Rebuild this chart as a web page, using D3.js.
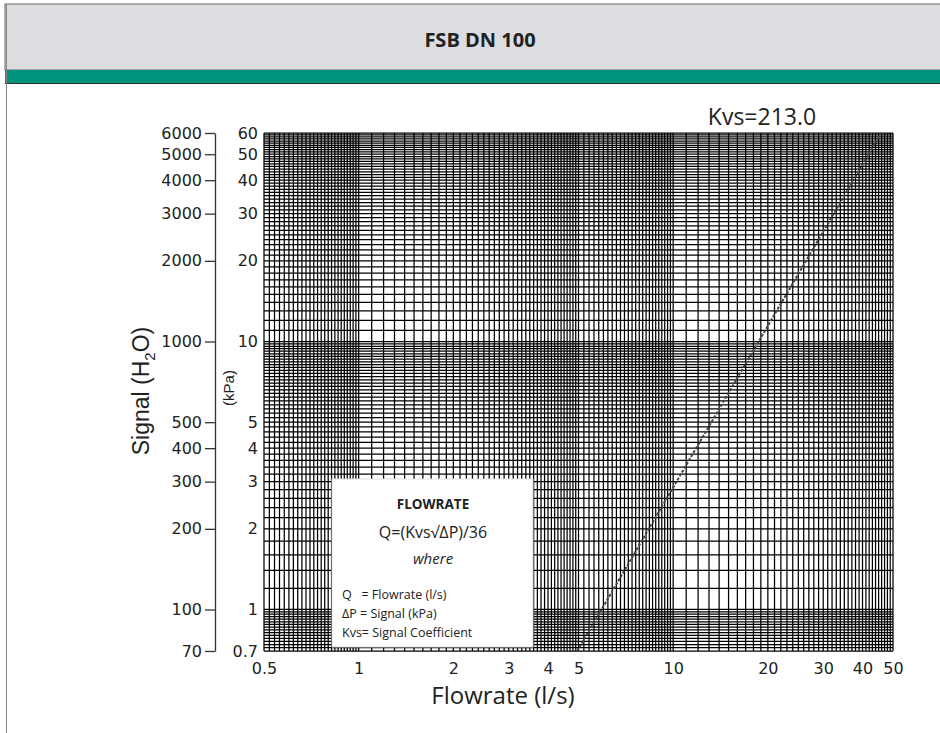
<!DOCTYPE html>
<html>
<head>
<meta charset="utf-8">
<script src="https://cdn.jsdelivr.net/npm/d3@7"></script>
<style>
  body { margin: 0; background: #fff; }
  svg text { fill: #222; }
</style>
</head>
<body>
<svg id="chart"></svg>
<script>
var title = 'FSB DN 100';
var kvsLabel = 'Kvs=213.0';
var flowTicks = [0.5, 1, 2, 3, 4, 5, 10, 20, 30, 40, 50];
var kpaTicks = [60, 50, 40, 30, 20, 10, 5, 4, 3, 2, 1, 0.7];
var h2oTicks = [6000, 5000, 4000, 3000, 2000, 1000, 500, 400, 300, 200, 100, 70];
// log paper divisions: [from, to, step]
var gridFlow = [[0.5, 1, 0.02], [1, 5, 0.1], [5, 10, 0.2], [10, 50, 1]];
var gridSignal = [[0.7, 1, 0.02], [1, 10, 0.2], [10, 60, 1]];
// Kvs line: signal (kPa) -> flowrate (l/s)
var lineSignal = [0.7, 1, 10, 60];
var lineFlow = [4.95, 5.92, 18.7, 45.8];
var legendLines = ['Q   = Flowrate (l/s)', '\u0394P = Signal (kPa)', 'Kvs= Signal Coefficient'];

var width = 940,
    height = 733;

var svg = d3.select('#chart')
    .attr('width', width)
    .attr('height', height);

var x = d3.scaleLog().domain([0.5, 50]).range([264, 893]);
var y = d3.scaleLog().domain([0.7, 60]).range([651, 133]);
var yH2O = d3.scaleLog().domain([70, 6000]).range([651, 133]);

function divisions(segs) {
   var out = [];
   segs.forEach(function(s) {
      d3.range(s[0], s[1] + s[2] / 2, s[2]).forEach(function(v) {
         v = Math.round(v * 1000) / 1000;
         if (out.indexOf(v) < 0) out.push(v);
      });
   });
   return out;
}

// header
svg.append('rect')
   .attr('x', 5).attr('y', 4)
   .attr('width', width).attr('height', 66)
   .attr('fill', '#dcdde0')
   .attr('stroke', '#666');
svg.append('rect')
   .attr('x', 5).attr('y', 70)
   .attr('width', width).attr('height', 13)
   .attr('fill', '#00927d');
svg.append('line')
   .attr('x1', 5).attr('x2', width)
   .attr('y1', 83.5).attr('y2', 83.5)
   .attr('stroke', '#333');
svg.append('line')
   .attr('x1', 6.5).attr('x2', 6.5)
   .attr('y1', 4).attr('y2', height)
   .attr('stroke', '#888');
svg.append('text')
   .attr('x', 480).attr('y', 47)
   .attr('text-anchor', 'middle')
   .style('font', 'bold 20px "Open Sans"')
   .text(title);

// grid
var grid = svg.append('g')
   .attr('stroke', '#000')
   .attr('stroke-width', 1.25);

grid.selectAll('line.v')
   .data(divisions(gridFlow))
   .enter().append('line')
   .attr('class', 'v')
   .attr('x1', function(d) { return x(d) })
   .attr('x2', function(d) { return x(d) })
   .attr('y1', y(60)).attr('y2', y(0.7));

grid.selectAll('line.h')
   .data(divisions(gridSignal))
   .enter().append('line')
   .attr('class', 'h')
   .attr('y1', function(d) { return y(d) })
   .attr('y2', function(d) { return y(d) })
   .attr('x1', x(0.5)).attr('x2', x(50));

// Kvs line
svg.append('path')
   .datum(lineSignal.map(function(s, i) { return [lineFlow[i], s] }))
   .attr('fill', 'none')
   .attr('stroke', '#444')
   .attr('stroke-width', 2)
   .attr('stroke-dasharray', '3,1.5')
   .attr('d', d3.line()
      .x(function(d) { return x(d[0]) })
      .y(function(d) { return y(d[1]) }));

// H2O axis
var axH2O = svg.append('g')
   .attr('transform', 'translate(215,0)')
   .call(d3.axisLeft(yH2O)
      .tickValues(h2oTicks)
      .tickFormat(d3.format('d'))
      .tickSize(10)
      .tickSizeOuter(0)
      .tickPadding(3));
axH2O.selectAll('path, line').attr('stroke', '#333').attr('stroke-width', 1.3);
axH2O.selectAll('text').style('font', '16px "DejaVu Sans"').attr('fill', '#222');

// kPa axis
var axKpa = svg.append('g')
   .attr('transform', 'translate(258,0)')
   .call(d3.axisLeft(y)
      .tickValues(kpaTicks)
      .tickFormat(function(d) { return String(d) })
      .tickSize(0)
      .tickPadding(0));
axKpa.select('.domain').remove();
axKpa.selectAll('text').style('font', '16px "DejaVu Sans"').attr('fill', '#222');

// flow axis
var axFlow = svg.append('g')
   .attr('transform', 'translate(0,651)')
   .call(d3.axisBottom(x)
      .tickValues(flowTicks)
      .tickFormat(function(d) { return String(d) })
      .tickSize(0)
      .tickPadding(12));
axFlow.select('.domain').remove();
axFlow.selectAll('text').style('font', '16px "DejaVu Sans"').attr('fill', '#222');

// axis titles
var sig = svg.append('text')
   .attr('transform', 'translate(149,391) rotate(-90)')
   .attr('text-anchor', 'middle')
   .style('font', '23px "Liberation Sans"');
sig.append('tspan').text('Signal (H');
sig.append('tspan').attr('dy', 6).style('font-size', '15px').text('2');
sig.append('tspan').attr('dy', -6).text('O)');

svg.append('text')
   .attr('transform', 'translate(234,388) rotate(-90)')
   .attr('text-anchor', 'middle')
   .style('font', '15px "Liberation Sans"')
   .text('(kPa)');

svg.append('text')
   .attr('x', 503).attr('y', 704)
   .attr('text-anchor', 'middle')
   .style('font', '24px "Open Sans"')
   .text('Flowrate (l/s)');

svg.append('text')
   .attr('x', 762).attr('y', 125)
   .attr('text-anchor', 'middle')
   .style('font', '23px "Open Sans"')
   .text(kvsLabel);

// formula box
svg.append('rect')
   .attr('x', 332).attr('y', 479)
   .attr('width', 201).attr('height', 168)
   .attr('fill', '#fff')
   .attr('stroke', '#ddd');

svg.append('text')
   .attr('x', 433).attr('y', 509)
   .attr('text-anchor', 'middle')
   .style('font', 'bold 13.5px "Open Sans"')
   .text('FLOWRATE');
svg.append('text')
   .attr('x', 433).attr('y', 538)
   .attr('text-anchor', 'middle')
   .style('font', '16px "Open Sans"')
   .text('Q=(Kvs\u221A\u0394P)/36');
svg.append('text')
   .attr('x', 433).attr('y', 564)
   .attr('text-anchor', 'middle')
   .style('font', 'italic 15px "Open Sans"')
   .attr('fill', '#444')
   .text('where');

svg.selectAll('text.leg')
   .data(legendLines)
   .enter().append('text')
   .attr('class', 'leg')
   .attr('x', 342)
   .attr('y', function(d, i) { return 599 + i * 19 })
   .style('font', '12.5px "Open Sans"')
   .style('white-space', 'pre')
   .attr('xml:space', 'preserve')
   .text(function(d) { return d });
</script>
</body>
</html>
